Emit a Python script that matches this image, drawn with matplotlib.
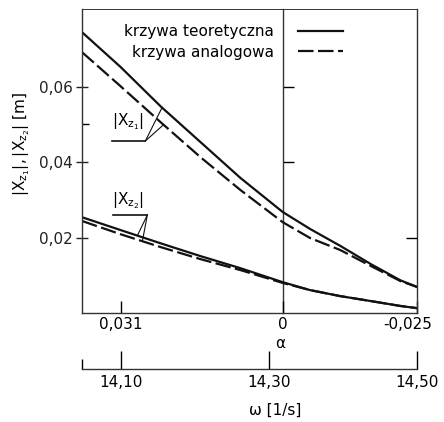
import matplotlib
matplotlib.use('Agg')
import matplotlib.pyplot as plt
import matplotlib.transforms as mtransforms
import numpy as np

plt.rcParams['font.family'] = ['DejaVu Sans']
plt.rcParams['mathtext.default'] = 'regular'

# angular frequency omega [1/s] (lower axis) and |x_z1|, |x_z2| [m]
omega = [14.047, 14.099, 14.153, 14.207, 14.261, 14.318, 14.355, 14.396, 14.437, 14.477, 14.500]
xz1_theory = [0.0744, 0.0652, 0.0548, 0.0453, 0.0358, 0.0268, 0.0223, 0.0178, 0.0130, 0.0087, 0.0069]
xz1_analog = [0.0691, 0.0601, 0.0506, 0.0413, 0.0326, 0.0241, 0.0199, 0.0167, 0.0125, 0.0085, 0.0069]
xz2_theory = [0.0254, 0.0220, 0.0185, 0.0151, 0.0119, 0.0082, 0.0061, 0.0045, 0.0032, 0.0019, 0.0013]
xz2_analog = [0.0244, 0.0209, 0.0175, 0.0143, 0.0114, 0.0080, 0.0061, 0.0045, 0.0032, 0.0019, 0.0013]

y_ticks = [0.02, 0.04, 0.06]
y_tick_labels = ['0,02', '0,04', '0,06']
alpha_tick_omega = [14.099, 14.318, 14.500]
alpha_tick_labels = ['0,031', '0', '-0,025']
omega_ticks = [14.10, 14.30, 14.50]
omega_tick_labels = ['14,10', '14,30', '14,50']
alpha_zero = 14.318

ink = '#111111'
fs = 11

fig = plt.figure(figsize=(4.44, 4.22), dpi=100)
ax = fig.add_axes([0.185, 0.258, 0.755, 0.720])

ax.plot(omega, xz1_theory, color=ink, lw=1.6, label='krzywa teoretyczna')
ax.plot(omega, xz1_analog, color=ink, lw=1.6, dashes=(7, 2), label='krzywa analogowa')
ax.plot(omega, xz2_theory, color=ink, lw=1.6)
ax.plot(omega, xz2_analog, color=ink, lw=1.6, dashes=(7, 2))

ax.set_xlim(14.047, 14.50)
ax.set_ylim(0, 0.0805)

for sp in ax.spines.values():
    sp.set_linewidth(1.0)
    sp.set_color('#333333')
ax.spines['top'].set_linewidth(0.7)

# left axis
ax.set_yticks(y_ticks, y_tick_labels)
ax.set_yticks([0.05], minor=True)
ax.tick_params(axis='y', which='major', direction='inout', length=9, width=1,
               labelsize=fs, pad=2, colors='#222222')
ax.tick_params(axis='y', which='minor', direction='in', length=5, width=1)
ax.set_ylabel(r'$|X_{z_1}|,|X_{z_2}|$ [m]', fontsize=fs)
ax.yaxis.set_label_coords(-0.15, 0.556)

# alpha axis (bottom of plot)
ax.set_xticks(alpha_tick_omega, alpha_tick_labels)
ax.tick_params(axis='x', direction='in', length=9, width=1, labelsize=fs, pad=3)
last = ax.get_xticklabels()[-1]
last.set_transform(last.get_transform() + mtransforms.ScaledTranslation(-7 / 72, 0, fig.dpi_scale_trans))
ax.set_xlabel('α', fontsize=fs)
ax.xaxis.set_label_coords(0.591, -0.075)

# vertical line at alpha = 0 with its own ticks
mid = ax.secondary_yaxis((alpha_zero - 14.047) / (14.50 - 14.047))
mid.set_alignment('left')
mid.set_yticks([0.04, 0.06], ['', ''])
mid.tick_params(direction='in', length=8, width=1)
mid.spines['left'].set_linewidth(1.0)
mid.spines['left'].set_color('#333333')

# single inward tick on the right frame
tw = ax.twinx()
tw.set_ylim(ax.get_ylim())
tw.set_yticks([0.02], [''])
tw.tick_params(axis='y', direction='in', length=8, width=1)
for sp in tw.spines.values():
    sp.set_visible(False)

# omega axis
om = ax.secondary_xaxis(-0.184)
om.set_xticks(omega_ticks, omega_tick_labels)
om.set_xticks([14.047], minor=True)
om.tick_params(which='major', direction='in', length=13, width=1, labelsize=fs, pad=4)
om.tick_params(which='minor', direction='in', length=7, width=1)
om.spines['bottom'].set_linewidth(1.0)
om.spines['bottom'].set_color('#333333')
om.set_xlabel('ω [1/s]', fontsize=fs)
om.xaxis.set_label_coords(0.576, -0.296, transform=ax.transAxes)

# curve labels with leader lines
ax.text(14.1095, 0.0506, r'$|X_{z_1}|$', fontsize=fs, ha='center', va='center')
ax.plot([14.0878, 14.1324], [0.0456, 0.0456], color=ink, lw=1.2)
for arr, w in [(xz1_theory, 14.155), (xz1_analog, 14.157)]:
    ax.plot([14.1324, w], [0.0456, np.interp(w, omega, arr)], color=ink, lw=0.8)

ax.text(14.1095, 0.0299, r'$|X_{z_2}|$', fontsize=fs, ha='center', va='center')
ax.plot([14.0892, 14.1351], [0.0260, 0.0260], color=ink, lw=1.2)
for arr, w in [(xz2_theory, 14.1216), (xz2_analog, 14.1284)]:
    ax.plot([14.1351, w], [0.0260, np.interp(w, omega, arr)], color=ink, lw=0.8)

ax.legend(loc='upper left', bbox_to_anchor=(0.125, 0.95), frameon=False,
          markerfirst=False, fontsize=fs, handlelength=2.9, handletextpad=1.6,
          borderpad=0, borderaxespad=0, labelspacing=0.35)

fig.savefig('out.png', dpi=100)
